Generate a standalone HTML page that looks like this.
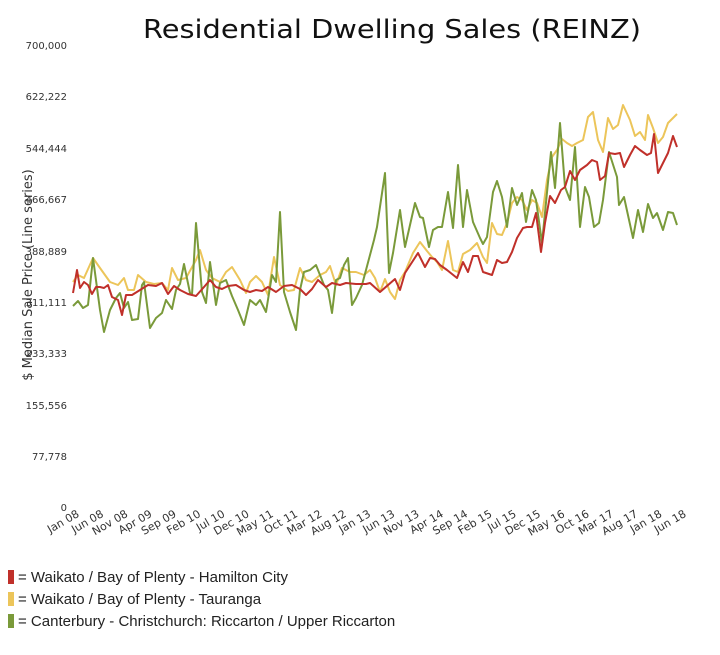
<!DOCTYPE html>
<html><head><meta charset="utf-8"><style>
body{margin:0;background:#fff;width:720px;height:655px;overflow:hidden;font-family:"Liberation Sans","DejaVu Sans",sans-serif;}
.lg{position:absolute;left:8px;font-size:15px;color:#222;}
.lg span{display:inline-block;width:6px;height:14px;vertical-align:-2px;margin-right:4px;}
</style></head><body>
<svg width="720" height="655" style="position:absolute;left:0;top:0" font-family="DejaVu Sans, Liberation Sans, sans-serif">
<text x="392" y="38" font-size="26" text-anchor="middle" fill="#111" textLength="498" lengthAdjust="spacingAndGlyphs">Residential Dwelling Sales (REINZ)</text>
<g font-size="10" fill="#333" text-anchor="end">
<text x="67" y="49">700,000</text><text x="67" y="100">622,222</text><text x="67" y="152">544,444</text>
<text x="67" y="203">466,667</text><text x="67" y="255">388,889</text><text x="67" y="306">311,111</text>
<text x="67" y="357">233,333</text><text x="67" y="409">155,556</text><text x="67" y="460">77,778</text>
<text x="67" y="511">0</text></g>
<text transform="translate(32,275) rotate(-90)" font-size="13" fill="#333" text-anchor="middle">$ Median Sale Price (Line series)</text>
<g font-size="11" fill="#333" text-anchor="end" id="xt"></g>
<g fill="none" stroke-width="2" stroke-linejoin="round">
<polyline stroke="#ecc55a" points="73,282 78,275 84,278 93,258 100,268 110,282 118,285 124,278 128,290 134,290 138,275 146,282 154,284 162,283 168,290 172,268 178,280 186,278 196,260 200,250 206,270 212,278 220,282 226,272 232,267 240,280 246,293 250,282 256,276 262,282 268,295 274,257 280,285 288,291 294,290 300,268 306,280 312,282 320,275 326,272 330,266 336,285 342,268 350,272 356,272 364,275 370,270 375,278 380,292 385,279 390,292 395,299 400,280 405,272 413,253 420,242 427,251 432,257 437,262 442,270 448,241 453,270 458,272 463,254 470,250 477,243 483,257 487,263 492,223 497,234 502,235 507,223 512,203 517,197 522,200 527,210 532,200 537,203 542,217 547,180 552,157 557,150 562,139 567,143 572,146 577,143 583,140 588,117 593,112 598,140 603,152 608,118 613,129 618,125 623,105 630,120 635,136 640,132 645,140 648,115 653,128 658,143 663,137 668,123 677,114"/>
<polyline stroke="#7a9a3a" points="73,306 78,301 83,308 88,305 93,258 100,310 104,332 110,310 116,298 120,293 124,308 128,302 132,320 138,319 142,285 144,282 150,328 156,318 162,313 166,300 172,309 176,290 180,284 184,264 190,293 192,295 196,223 202,292 206,303 210,262 216,305 220,283 226,280 232,296 238,310 244,325 250,300 256,305 260,300 266,312 272,275 276,282 280,212 284,292 290,312 296,330 300,290 304,272 310,270 316,265 320,275 324,285 328,290 332,313 336,280 340,278 344,265 348,258 352,305 356,298 362,285 370,255 374,240 377,227 385,173 389,273 393,253 400,210 405,247 415,203 420,217 423,218 429,247 433,230 438,227 442,227 448,192 453,228 458,165 463,227 467,190 473,222 480,238 483,244 487,237 493,192 497,181 502,197 507,227 512,188 517,205 522,193 526,222 532,190 536,200 542,243 551,152 555,188 560,123 565,187 570,200 575,147 580,227 585,187 589,197 594,227 599,223 603,200 609,152 617,177 619,205 624,197 633,238 638,210 643,232 648,204 653,218 657,213 663,230 668,212 673,213 677,225"/>
<polyline stroke="#c0302a" points="73,293 77,270 80,288 84,282 88,285 92,294 96,287 100,287 104,288 108,285 112,297 118,300 122,315 126,295 132,295 140,290 148,285 156,286 162,283 168,294 174,286 180,290 188,294 196,296 204,287 210,280 216,287 222,289 228,286 236,285 244,290 250,292 256,290 262,291 268,287 276,292 284,286 292,285 300,289 306,295 312,289 318,280 326,287 332,283 340,285 346,283 356,284 366,284 370,283 380,292 395,279 400,290 405,273 418,253 425,267 430,258 435,259 440,265 447,270 457,278 463,262 468,272 473,256 478,256 483,272 492,275 497,260 502,263 507,262 512,252 517,238 523,228 527,227 532,227 536,213 541,252 545,223 550,196 555,203 561,190 565,187 570,171 575,180 580,170 587,165 592,160 597,162 600,180 605,176 609,153 615,154 620,153 624,167 630,155 635,146 640,150 647,155 651,153 654,134 658,173 663,163 668,153 673,136 677,147"/>
</g>
</svg>
<div class="lg" style="top:569px"><span style="background:#c0302a"></span>= Waikato / Bay of Plenty - Hamilton City</div>
<div class="lg" style="top:591px"><span style="background:#ecc55a"></span>= Waikato / Bay of Plenty - Tauranga</div>
<div class="lg" style="top:613px"><span style="background:#7a9a3a"></span>= Canterbury - Christchurch: Riccarton / Upper Riccarton</div>
<script>
var L=["Jan 08","Jun 08","Nov 08","Apr 09","Sep 09","Feb 10","Jul 10","Dec 10","May 11","Oct 11","Mar 12","Aug 12","Jan 13","Jun 13","Nov 13","Apr 14","Sep 14","Feb 15","Jul 15","Dec 15","May 16","Oct 16","Mar 17","Aug 17","Jan 18","Jun 18"];
var g=document.getElementById("xt"),s="";
for(var i=0;i<L.length;i++){var x=80+i*24.28;s+='<text transform="translate('+x.toFixed(1)+',516) rotate(-30)">'+L[i]+'</text>';}
g.innerHTML=s;
</script>
</body></html>
